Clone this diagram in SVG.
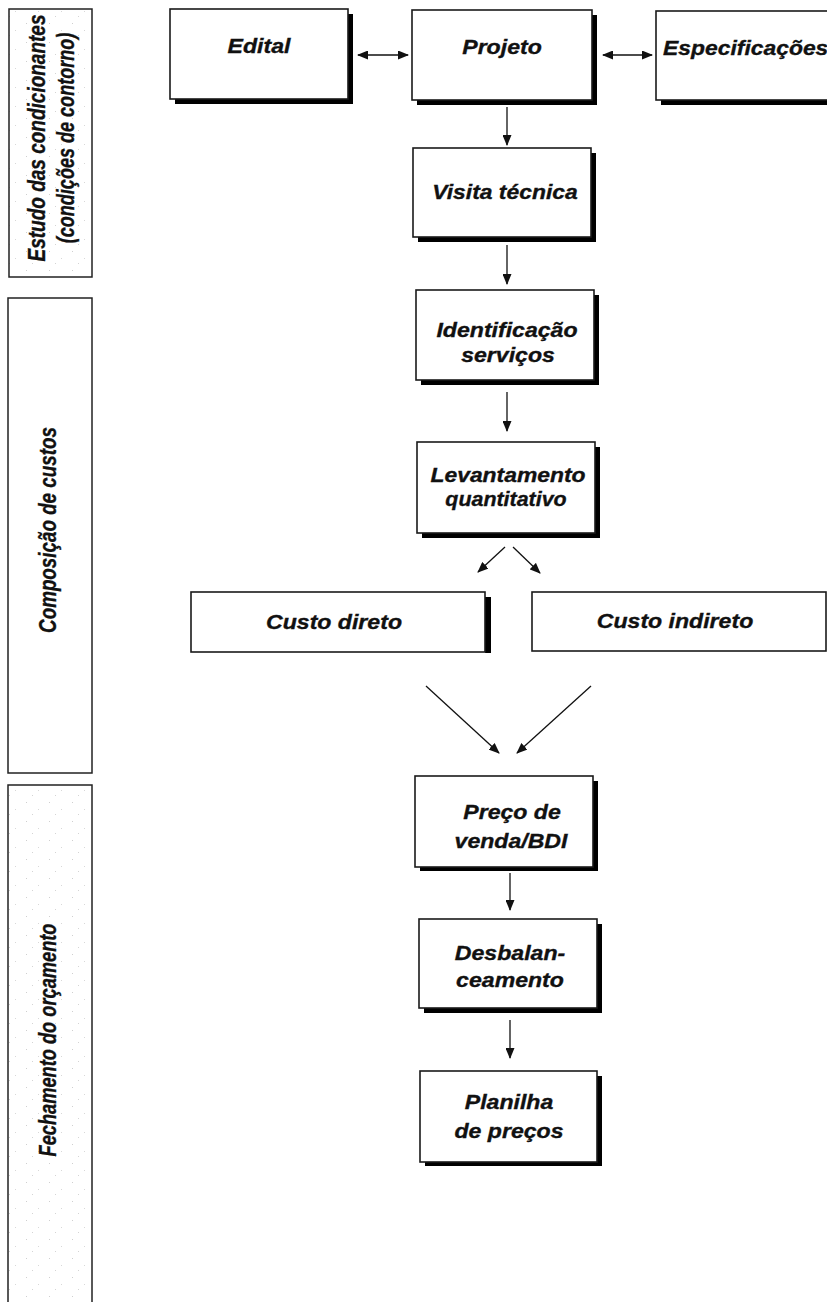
<svg xmlns="http://www.w3.org/2000/svg" width="827" height="1302" viewBox="0 0 827 1302">
<style>
.band{fill:url(#speck);stroke:#222;stroke-width:1.5}
.box{fill:#fff;stroke:#1a1a1a;stroke-width:1.6}
.sh{fill:#000}
.t{font-family:"Liberation Sans",Arial,sans-serif;font-weight:bold;font-style:italic;font-size:21px;fill:#111;stroke:#111;stroke-width:0.35;text-anchor:middle}
.vt{font-family:"Liberation Sans",Arial,sans-serif;font-weight:bold;font-style:italic;font-size:19px;fill:#111;stroke:#111;stroke-width:0.3;text-anchor:middle}
.c{stroke:#111;stroke-width:1.3;fill:none}
</style>
<defs>
<pattern id="speck" width="23" height="19" patternUnits="userSpaceOnUse">
<rect width="23" height="19" fill="#fff"/>
<rect x="3" y="4" width="1" height="1" fill="#cfcfcf"/>
<rect x="15" y="11" width="1" height="1" fill="#d8d8d8"/>
<rect x="9" y="16" width="1" height="1" fill="#d4d4d4"/>
</pattern>
<marker id="ah" markerUnits="userSpaceOnUse" markerWidth="11" markerHeight="9" refX="10" refY="4.5" orient="auto-start-reverse">
<path d="M0,0 L11,4.5 L0,9 z" fill="#111"/>
</marker>
</defs>

<g id="band-estudo">
<rect class="band" x="9" y="9" width="83" height="268"/>
<text class="vt" transform="translate(45,138) rotate(-90) scale(1,1.22)">Estudo das condicionantes</text>
<text class="vt" transform="translate(74,138) rotate(-90) scale(0.95,1.22)">(condições de contorno)</text>
</g>
<g id="band-composicao">
<rect class="band" x="8" y="298" width="84" height="475" style="fill:#fff"/>
<text class="vt" transform="translate(56,530) rotate(-90) scale(0.99,1.22)">Composição de custos</text>
</g>
<g id="band-fechamento">
<rect class="band" x="8" y="785" width="84" height="530"/>
<text class="vt" transform="translate(56,1040) rotate(-90) scale(0.96,1.22)">Fechamento do orçamento</text>
</g>

<g id="edital">
<rect class="sh" x="175" y="14" width="178" height="90"/>
<rect class="box" x="170" y="9" width="178" height="90"/>
<text class="t" transform="translate(259,53) scale(1.1,1)">Edital</text>
</g>
<g id="projeto">
<rect class="sh" x="417" y="15" width="180" height="90"/>
<rect class="box" x="412" y="10" width="180" height="90"/>
<text class="t" transform="translate(502,54) scale(1.1,1)">Projeto</text>
</g>
<g id="especificacoes">
<rect class="sh" x="661" y="16" width="180" height="89"/>
<rect class="box" x="656" y="11" width="180" height="89"/>
<text class="t" transform="translate(663,55) scale(1.09,1)" style="text-anchor:start">Especificações</text>
</g>
<g id="visita">
<rect class="sh" x="418" y="153" width="178" height="89"/>
<rect class="box" x="413" y="148" width="178" height="89"/>
<text class="t" transform="translate(505,199) scale(1.09,1)">Visita técnica</text>
</g>
<g id="identificacao">
<rect class="sh" x="421" y="295" width="178" height="90"/>
<rect class="box" x="416" y="290" width="178" height="90"/>
<text class="t" transform="translate(507,337) scale(1.1,1)">Identificação</text>
<text class="t" transform="translate(508,362) scale(1.1,1)">serviços</text>
</g>
<g id="levantamento">
<rect class="sh" x="422" y="447" width="178" height="91"/>
<rect class="box" x="417" y="442" width="178" height="91"/>
<text class="t" transform="translate(508,482) scale(1.09,1)">Levantamento</text>
<text class="t" transform="translate(506,506) scale(1.02,1)">quantitativo</text>
</g>
<g id="custo-direto">
<rect class="sh" x="485" y="597" width="6" height="56"/>
<rect class="box" x="191" y="592" width="294" height="60"/>
<text class="t" transform="translate(334,629) scale(1.1,1)">Custo direto</text>
</g>
<g id="custo-indireto">
<rect class="box" x="532" y="592" width="294" height="59"/>
<text class="t" transform="translate(675,628) scale(1.1,1)">Custo indireto</text>
</g>
<g id="preco">
<rect class="sh" x="420" y="781" width="178" height="90"/>
<rect class="box" x="415" y="776" width="178" height="91"/>
<text class="t" transform="translate(512,819) scale(1.1,1)">Preço de</text>
<text class="t" transform="translate(511,848) scale(1.1,1)">venda/BDI</text>
</g>
<g id="desbalanceamento">
<rect class="sh" x="424" y="924" width="178" height="89"/>
<rect class="box" x="419" y="919" width="178" height="89"/>
<text class="t" transform="translate(510,960) scale(1.1,1)">Desbalan-</text>
<text class="t" transform="translate(510,987) scale(1.1,1)">ceamento</text>
</g>
<g id="planilha">
<rect class="sh" x="425" y="1076" width="177" height="90"/>
<rect class="box" x="420" y="1071" width="177" height="91"/>
<text class="t" transform="translate(509,1109) scale(1.1,1)">Planilha</text>
<text class="t" transform="translate(509,1138) scale(1.1,1)">de preços</text>
</g>

<g id="connectors">
<line class="c" x1="358" y1="55" x2="408" y2="55" marker-start="url(#ah)" marker-end="url(#ah)"/>
<line class="c" x1="603" y1="55" x2="652" y2="55" marker-start="url(#ah)" marker-end="url(#ah)"/>
<line class="c" x1="507" y1="107" x2="507" y2="145" marker-end="url(#ah)"/>
<line class="c" x1="507" y1="245" x2="507" y2="284" marker-end="url(#ah)"/>
<line class="c" x1="507" y1="392" x2="507" y2="431" marker-end="url(#ah)"/>
<line class="c" x1="505" y1="547" x2="478" y2="572" marker-end="url(#ah)"/>
<line class="c" x1="513" y1="547" x2="540" y2="573" marker-end="url(#ah)"/>
<line class="c" x1="426" y1="686" x2="499" y2="753" marker-end="url(#ah)"/>
<line class="c" x1="591" y1="686" x2="517" y2="753" marker-end="url(#ah)"/>
<line class="c" x1="510" y1="873" x2="510" y2="910" marker-end="url(#ah)"/>
<line class="c" x1="510" y1="1020" x2="510" y2="1058" marker-end="url(#ah)"/>
</g>
</svg>
